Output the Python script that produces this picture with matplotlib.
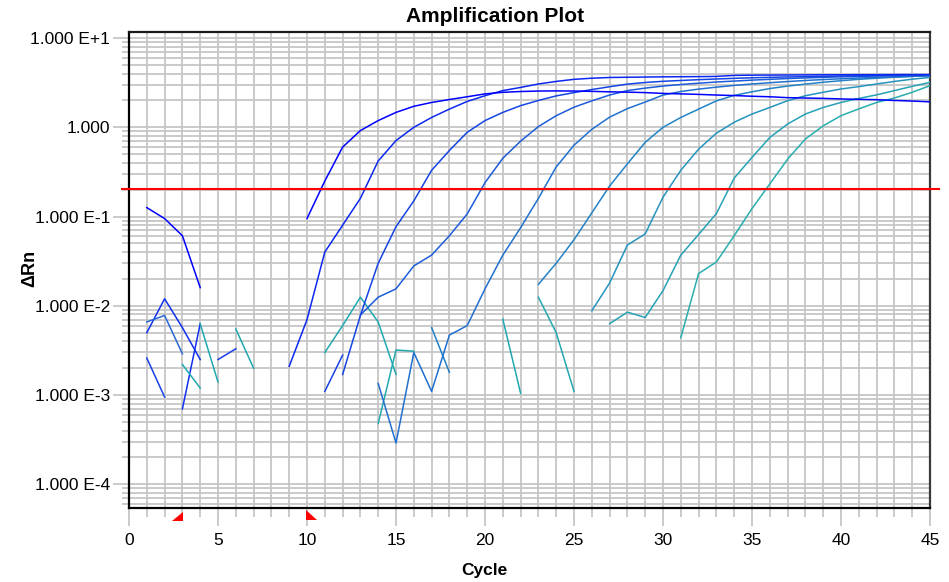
import numpy as np
import matplotlib
matplotlib.use("Agg")
import matplotlib.pyplot as plt
from matplotlib import transforms
from matplotlib.patches import Polygon
from matplotlib.ticker import FixedLocator, FixedFormatter, NullFormatter

plt.rcParams['font.family'] = ['Liberation Sans', 'DejaVu Sans']

# ---------------- data ----------------
threshold = 0.205
baseline_start = 3
baseline_end = 10

x_major = list(range(0, 46, 5))
x_minor = list(range(0, 46))
y_major = [1e-4, 1e-3, 1e-2, 1e-1, 1.0, 10.0]
y_labels = ["1.000 E-4", "1.000 E-3", "1.000 E-2", "1.000 E-1", "1.000", "1.000 E+1"]

# amplification curves: first cycle + dRn values per cycle
amp1_start = 10
amp1 = [0.095, 0.25, 0.60, 0.92, 1.19, 1.47, 1.72, 1.90, 2.05, 2.20, 2.37, 2.47, 2.52,
        2.55, 2.56, 2.55, 2.53, 2.50, 2.48, 2.45, 2.40, 2.37, 2.34, 2.30, 2.27, 2.23,
        2.20, 2.15, 2.13, 2.11, 2.08, 2.06, 2.04, 2.00, 1.97, 1.93]
amp2_start = 9
amp2 = [0.0021, 0.0070, 0.040, 0.080, 0.16, 0.42, 0.71, 1.00, 1.29, 1.60, 1.95, 2.26,
        2.58, 2.80, 3.06, 3.27, 3.45, 3.55, 3.62, 3.64, 3.66, 3.68, 3.69, 3.70, 3.72,
        3.82, 3.84, 3.85, 3.86, 3.87, 3.88, 3.88, 3.89, 3.89, 3.90, 3.90, 3.90]
amp3_start = 12
amp3 = [0.0017, 0.0078, 0.030, 0.077, 0.15, 0.33, 0.55, 0.88, 1.19, 1.47, 1.75, 2.00,
        2.25, 2.45, 2.65, 2.85, 3.05, 3.18, 3.28, 3.35, 3.42, 3.48, 3.54, 3.59, 3.63,
        3.67, 3.70, 3.73, 3.76, 3.78, 3.80, 3.82, 3.84, 3.86]
amp4_start = 13
amp4 = [0.0079, 0.0125, 0.0155, 0.028, 0.037, 0.061, 0.107, 0.24, 0.45, 0.70, 1.02,
        1.35, 1.68, 1.98, 2.30, 2.58, 2.75, 2.90, 3.02, 3.12, 3.22, 3.30, 3.38, 3.45,
        3.52, 3.58, 3.63, 3.68, 3.72, 3.76, 3.80, 3.83, 3.86]
amp5_start = 14
amp5 = [0.00135, 0.00029, 0.0030, 0.0011, 0.0047, 0.0060, 0.0155, 0.037, 0.075, 0.16,
        0.36, 0.63, 0.95, 1.30, 1.62, 1.92, 2.30, 2.52, 2.68, 2.82, 2.95, 3.06, 3.16,
        3.26, 3.35, 3.43, 3.50, 3.57, 3.63, 3.68, 3.73, 3.77]
amp6_start = 23
amp6 = [0.0174, 0.030, 0.055, 0.11, 0.22, 0.39, 0.68, 1.00, 1.29, 1.60, 1.98, 2.28,
        2.50, 2.72, 2.90, 3.05, 3.20, 3.33, 3.45, 3.55, 3.64, 3.72, 3.80]
amp7_start = 26
amp7 = [0.0088, 0.018, 0.048, 0.064, 0.165, 0.33, 0.57, 0.86, 1.14, 1.41, 1.67, 1.99,
        2.26, 2.47, 2.69, 2.86, 3.06, 3.27, 3.46, 3.63]
amp8_start = 27
amp8 = [0.0063, 0.0085, 0.0074, 0.0148, 0.037, 0.063, 0.108, 0.27, 0.46, 0.77, 1.09,
        1.41, 1.67, 1.90, 2.11, 2.31, 2.58, 2.88, 3.19]
amp9_start = 31
amp9 = [0.0044, 0.023, 0.031, 0.061, 0.123, 0.232, 0.44, 0.74, 1.04, 1.35, 1.61, 1.90,
        2.13, 2.47, 2.93]

# short noisy baseline pieces (positive values only)
frag_starts = [1, 1, 1, 1, 3, 4, 5, 3, 6, 11, 11, 17, 14, 21, 23]
frag_values = [
    [0.126, 0.095, 0.061, 0.016],
    [0.0050, 0.012, 0.0057, 0.0025],
    [0.0066, 0.0078, 0.0029],
    [0.0026, 0.00095],
    [0.0007, 0.0063],
    [0.0063, 0.0014],
    [0.0025, 0.0033],
    [0.0022, 0.0012],
    [0.0055, 0.0020],
    [0.0030, 0.0060, 0.0125, 0.0066, 0.0017],
    [0.0011, 0.0028],
    [0.0057, 0.0018],
    [0.00048, 0.0032, 0.0031],
    [0.0071, 0.00105],
    [0.0125, 0.0050, 0.0011],
]
frag_colors = ['#0000FF', '#1030F0', '#2868D8', '#1840E8', '#1030F0', '#20A8B0',
               '#1840E8', '#20A8B0', '#20A8B0', '#20A8B0', '#1840E8', '#2080C8',
               '#20A8B0', '#20A8B0', '#20A8B0']

amp_starts = [amp1_start, amp2_start, amp3_start, amp4_start, amp5_start,
              amp6_start, amp7_start, amp8_start, amp9_start]
amp_values = [amp1, amp2, amp3, amp4, amp5, amp6, amp7, amp8, amp9]
amp_colors = ['#0000FF', '#0C28F0', '#1444E4', '#1C5CDA', '#2070D0',
              '#2282C6', '#2494BE', '#26A2B6', '#28AEAE']

# ---------------- figure ----------------
W, H = 949, 582
fig = plt.figure(figsize=(W / 100, H / 100), dpi=100)
fig.patch.set_facecolor('white')
L, R, T, B = 129, 930, 32, 507.7
ax = fig.add_axes([L / W, 1 - B / H, (R - L) / W, (B - T) / H])
ax.set_yscale('log')
ax.set_xlim(0, 45)
ax.set_ylim(5.47e-5, 11.7)
ax.set_axisbelow(True)

grid_col = '#C6C6C6'
ax.xaxis.set_major_locator(FixedLocator(x_major))
ax.xaxis.set_minor_locator(FixedLocator(x_minor))
ax.xaxis.set_major_formatter(FixedFormatter([str(v) for v in x_major]))
ax.xaxis.set_minor_formatter(NullFormatter())

y_minor = []
for e in range(-5, 2):
    for m in range(2, 10):
        y_minor.append(m * 10.0 ** e)
ax.yaxis.set_major_locator(FixedLocator(y_major))
ax.yaxis.set_minor_locator(FixedLocator(y_minor))
ax.yaxis.set_major_formatter(FixedFormatter(y_labels))
ax.yaxis.set_minor_formatter(NullFormatter())

ax.grid(True, which='both', color=grid_col, lw=1.3)
ax.tick_params(axis='x', which='major', length=13, width=1.3, color=grid_col,
               pad=5, labelsize=12.5)
ax.tick_params(axis='x', which='minor', length=6.5, width=1.3, color=grid_col)
ax.tick_params(axis='y', which='major', length=11.5, width=1.3, color=grid_col,
               pad=2, labelsize=12.5)
ax.tick_params(axis='y', which='minor', length=5, width=1.3, color=grid_col)

for name, col in [('left', '#000000'), ('bottom', '#000000'),
                  ('top', '#1A1A1A'), ('right', '#3A3A3A')]:
    ax.spines[name].set_color(col)
    ax.spines[name].set_linewidth(1.6)

def draw(start, vals, col):
    x = np.arange(start, start + len(vals))
    ax.plot(x, np.array(vals, float), color=col, lw=1.1, solid_joinstyle='round',
            zorder=3)

for s, v, c in zip(frag_starts, frag_values, frag_colors):
    draw(s, v, c)
for s, v, c in zip(amp_starts[::-1], amp_values[::-1], amp_colors[::-1]):
    draw(s, v, c)

ax.axhline(threshold, xmin=-0.0087, xmax=1.011, color='#FF0000', lw=1.5,
           clip_on=False, zorder=4)

# baseline markers below the axis
axh = B - T
trans = transforms.blended_transform_factory(ax.transData, ax.transAxes)
tri1 = Polygon([(baseline_start - 0.6, -13 / axh), (baseline_start + 0.05, -13 / axh),
                (baseline_start + 0.05, -4 / axh)], closed=True, transform=trans,
               facecolor='#FF0000', edgecolor='none', clip_on=False)
tri2 = Polygon([(baseline_end - 0.05, -2.5 / axh), (baseline_end - 0.05, -12.5 / axh),
                (baseline_end + 0.55, -12.5 / axh)], closed=True, transform=trans,
               facecolor='#FF0000', edgecolor='none', clip_on=False)
ax.add_patch(tri1)
ax.add_patch(tri2)

fig.text(495 / W, 1 - 17 / H, 'Amplification Plot', ha='center', va='center',
         fontsize=15, fontweight='bold')
fig.text(484 / W, 1 - 571 / H, 'Cycle', ha='center', va='center',
         fontsize=12.5, fontweight='bold')
fig.text(30 / W, 1 - 268 / H, 'ΔRn', rotation=90, ha='center', va='center',
         fontsize=13, fontweight='bold')

fig.savefig('out.png', dpi=100, facecolor='white')
